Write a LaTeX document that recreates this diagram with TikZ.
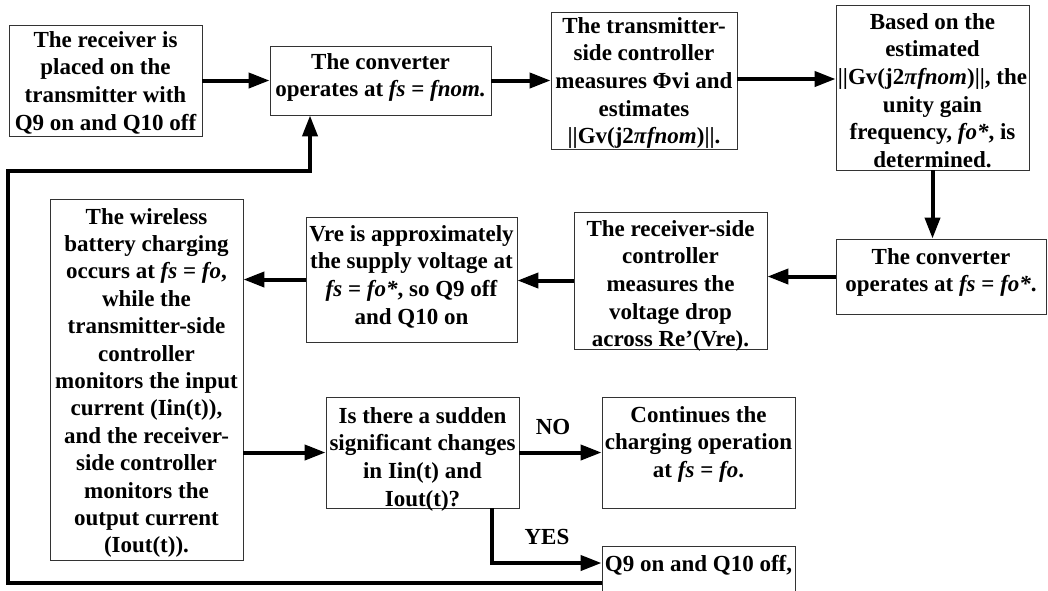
\documentclass[tikz,border=0pt]{standalone}
\usepackage{fontspec}
\setmainfont{Liberation Serif}
\usetikzlibrary{arrows.meta}
\tikzset{
  box/.style={draw=black!80, line width=0.9pt, inner sep=0pt},
  txt/.style={align=center, inner sep=0pt, anchor=north, font=\bfseries\fontsize{23}{27.7}\selectfont},
  lbl/.style={inner sep=0pt, font=\bfseries\fontsize{23}{27.7}\selectfont},
  arr/.style={line width=4pt, -{Triangle[length=21pt,width=15pt]}}
}
\begin{document}
\begin{tikzpicture}[x=1pt,y=-1pt]
\useasboundingbox (0,0) rectangle (1048,590);
\clip (0,0) rectangle (1048,590);
% boxes
\node[box, minimum width=193pt, minimum height=111pt] (b1) at (105.5,80.5) {};
\node[box, minimum width=221pt, minimum height=69pt] (b2) at (380.5,80.5) {};
\node[box, minimum width=186pt, minimum height=137pt] (b3) at (644,80.5) {};
\node[box, minimum width=193pt, minimum height=165pt] (b4) at (932.5,87.5) {};
\node[box, minimum width=210pt, minimum height=75pt] (b5) at (941,276.5) {};
\node[box, minimum width=193pt, minimum height=137pt] (b6) at (670.5,280.5) {};
\node[box, minimum width=211pt, minimum height=125pt] (b8) at (411.5,279.5) {};
\node[box, minimum width=193pt, minimum height=361pt] (b7) at (146.5,379.5) {};
\node[box, minimum width=193pt, minimum height=111pt] (b9) at (422.5,452.5) {};
\node[box, minimum width=193pt, minimum height=111pt] (b10) at (698.5,452.5) {};
\node[box, minimum width=193pt, minimum height=74pt] (b11) at (698.5,583) {};
% texts
\node[txt] (t1) at (105.5,31) {The receiver is\\placed on the\\transmitter with\\Q9 on and Q10 off};
\node[txt] (t2) at (380.5,53) {The converter\\operates at \textit{fs} = \textit{fnom.}};
\node[txt] (t3) at (644,17) {The transmitter-\\side controller\\measures Φvi and\\estimates\\||Gv(j2\textit{π}\textit{fnom})||.};
\node[txt] (t4) at (932.5,13) {Based on the\\estimated\\||Gv(j2\textit{π}\textit{fnom})||, the\\unity gain\\frequency, \textit{fo*}, is\\determined.};
\node[txt] (t5) at (941,248) {The converter\\operates at \textit{fs} = \textit{fo*}.};
\node[txt] (t6) at (670.5,220) {The receiver-side\\controller\\measures the\\voltage drop\\across Re’(Vre).};
\node[txt] (t8) at (411.5,225) {Vre is approximately\\the supply voltage at\\\textit{fs} = \textit{fo*}, so Q9 off\\and Q10 on};
\node[txt, font=\bfseries\fontsize{23}{27.4}\selectfont] (t7) at (146.5,208) {The wireless\\battery charging\\occurs at \textit{fs} = \textit{fo},\\while the\\transmitter-side\\controller\\monitors the input\\current (Iin(t)),\\and the receiver-\\side controller\\monitors the\\output current\\(Iout(t)).};
\node[txt] (t9) at (422.5,407) {Is there a sudden\\significant changes\\in Iin(t) and\\Iout(t)?};
\node[txt] (t10) at (698.5,406) {Continues the\\charging operation\\at \textit{fs} = \textit{fo}.};
\node[txt] (t11) at (698.5,555) {Q9 on and Q10 off,};
% labels
\node[lbl] (no) at (553,427) {NO};
\node[lbl] (yes) at (547,537) {YES};
% coordinates
\coordinate (ya) at (492,563);
\coordinate (fa) at (8,583);
\coordinate (fb) at (8,171);
\coordinate (fc) at (310,171);
% connectors
\draw[arr] (b1.east) -- (b2.west);
\draw[arr] (b2.east) -- (b3.west);
\draw[arr] ([yshift=1.5pt]b3.east) -- ([yshift=1.5pt]b3.east -| b4.west);
\draw[arr] (b4.south) -- (b4.south |- b5.north);
\draw[arr] (b5.west) -- (b5.west -| b6.east);
\draw[arr] (b6.west) -- (b6.west -| b8.east);
\draw[arr] (b8.west) -- (b8.west -| b7.east);
\draw[arr] (b9.west -| b7.east) -- (b9.west);
\draw[arr] (b9.east) -- (b10.west);
\draw[arr] (ya |- b9.south) -- (ya) -- (ya -| b11.west);
\draw[arr] (fa -| b11.west) -- (fa) -- (fb) -- (fc) -- (fc |- b2.south);
\end{tikzpicture}
\end{document}
